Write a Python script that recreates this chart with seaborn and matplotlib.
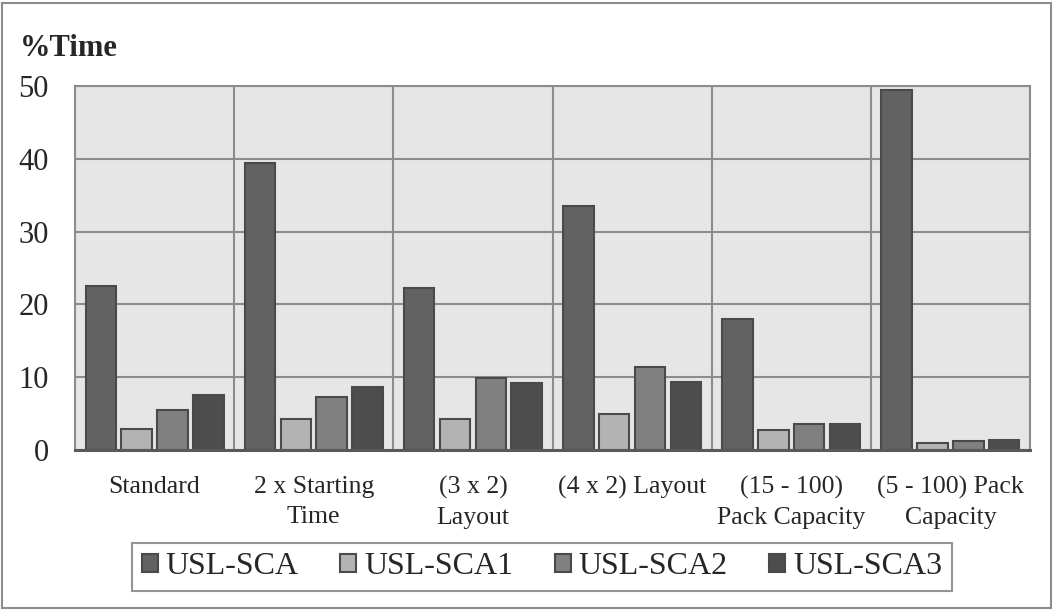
import numpy as np
import pandas as pd
import matplotlib
matplotlib.use("Agg")
import matplotlib.pyplot as plt
from matplotlib.patches import Rectangle
import seaborn as sns

# Scenario labels along the x axis
categories = [
    "Standard",
    "2 x Starting\nTime",
    "(3 x 2)\nLayout",
    "(4 x 2) Layout",
    "(15 - 100)\nPack Capacity",
    "(5 - 100) Pack\nCapacity",
]

# Share of time (%) for each method
usl_sca = [22.5, 39.4, 22.3, 33.5, 18.0, 49.4]
usl_sca1 = [2.9, 4.2, 4.2, 4.9, 2.8, 0.9]
usl_sca2 = [5.5, 7.3, 9.9, 11.4, 3.6, 1.3]
usl_sca3 = [7.5, 8.6, 9.2, 9.3, 3.6, 1.4]

series_names = ["USL-SCA", "USL-SCA1", "USL-SCA2", "USL-SCA3"]
series_values = [usl_sca, usl_sca1, usl_sca2, usl_sca3]
y_ticks = [0, 10, 20, 30, 40, 50]

colors = ["#626262", "#b3b3b3", "#808080", "#4d4d4d"]

rows = []
for name, vals in zip(series_names, series_values):
    for cat, v in zip(categories, vals):
        rows.append({"Scenario": cat, "Method": name, "Time": v})
df = pd.DataFrame(rows)

sns.set_theme(style="white")
plt.rcParams["font.family"] = ["Liberation Serif", "DejaVu Serif"]

fig = plt.figure(figsize=(10.54, 6.10), dpi=100)
ax = fig.add_axes([75 / 1054, 160 / 610, 955 / 1054, 364 / 610])
ax.set_facecolor("#e6e6e6")

sns.barplot(
    data=df, x="Scenario", y="Time", hue="Method",
    order=categories, hue_order=series_names, palette=colors,
    width=0.9, gap=0.15, edgecolor="#4a4a4a", linewidth=1.5,
    ax=ax, legend=True, zorder=3,
)

grid_color = "#8c8c8c"
ax.set_ylim(0, 50)
ax.set_xlim(-0.5, len(categories) - 0.5)
ax.set_yticks(y_ticks)
ax.set_yticklabels([str(t) for t in y_ticks], fontsize=22)
ax.set_xticks(range(len(categories)))
ax.set_xticklabels(categories, fontsize=18.5, linespacing=1.45)
ax.set_xticks(np.arange(-0.5, len(categories), 1.0), minor=True)

ax.tick_params(axis="y", length=0, pad=19)
ax.tick_params(axis="x", which="major", length=0, pad=19)
ax.tick_params(axis="x", which="minor", length=4, width=1.5,
               color=grid_color, direction="out")

ax.yaxis.grid(True, color=grid_color, linewidth=1.5, zorder=1)
ax.xaxis.grid(True, which="minor", color=grid_color, linewidth=1.5, zorder=1)
ax.xaxis.grid(False, which="major")
ax.set_axisbelow(True)

for side in ["top", "right", "left"]:
    ax.spines[side].set_visible(True)
    ax.spines[side].set_color(grid_color)
    ax.spines[side].set_linewidth(1.5)
ax.spines["bottom"].set_color("#595959")
ax.spines["bottom"].set_linewidth(2.2)
ax.spines["bottom"].set_zorder(4)

ax.set_xlabel("")
ax.set_ylabel("")

fig.text(20 / 1054, 1 - 56 / 610, "%Time", fontsize=22, fontweight="bold",
         ha="left", va="baseline")

handles, labels = ax.get_legend_handles_labels()
ax.get_legend().remove()
leg = fig.legend(
    handles, labels, loc="center", bbox_to_anchor=(542 / 1054, 1 - 567 / 610),
    ncol=4, fontsize=23, frameon=True, fancybox=False,
    handlelength=0.5, handleheight=0.5, handletextpad=0.25,
    columnspacing=1.3, borderpad=0.3, borderaxespad=0,
)
leg.get_frame().set_edgecolor("#7a7a7a")
leg.get_frame().set_linewidth(1.5)

fig.patches.append(Rectangle((2 / 1054, 2 / 610), 1049 / 1054, 605 / 610,
                             transform=fig.transFigure, fill=False,
                             edgecolor="#8c8c8c", linewidth=1.5))

fig.savefig("out.png", dpi=100)
